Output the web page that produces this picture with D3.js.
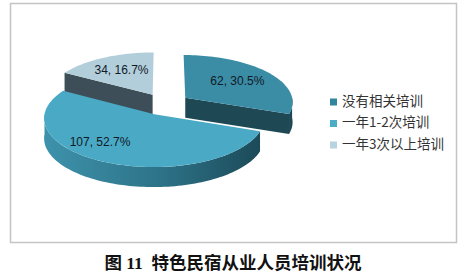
<!DOCTYPE html>
<html>
<head>
<meta charset="utf-8">
<script src="https://cdn.jsdelivr.net/npm/d3@7/dist/d3.min.js"></script>
<style>
  body { margin: 0; background: #fff; }
  svg { display: block; }
</style>
</head>
<body>
<script>
// data
const categories = ["没有相关培训", "一年1-2次培训", "一年3次以上培训"];
const counts = [62, 107, 34];
const percents = ["30.5%", "52.7%", "16.7%"];
const title = "图 11  特色民宿从业人员培训状况";

const width = 466, height = 280;

// pie geometry
const cx = 165, cy = 104;   // pie centre
const R = 108;              // radius (circle space)
const K = 0.44;             // vertical squash
const P = 0.08;             // small perspective
const E = 25;               // explode distance
const depth = 20;           // thickness

const topColor = d3.scaleOrdinal(categories, ["#3b8ca5", "#4aa9c5", "#b3cedb"]);
const sideColor = d3.scaleOrdinal(categories, ["#1f4855", "#2c7389", "#3e4e58"]);
const legendColor = d3.scaleOrdinal(categories, ["#31859c", "#4bacc6", "#b7d3df"]);

const svg = d3.select("body").append("svg")
    .attr("width", width)
    .attr("height", height);

// chart frame
svg.append("rect")
    .attr("x", 10.5).attr("y", 3.5)
    .attr("width", 446).attr("height", 239)
    .attr("fill", "#fff")
    .attr("stroke", "#c4c4c4")
    .attr("stroke-width", 1.5);

const defs = svg.append("defs");
const grad = defs.append("linearGradient")
    .attr("id", "wallGrad")
    .attr("x1", "0%").attr("x2", "100%").attr("y1", "0%").attr("y2", "0%");
grad.append("stop").attr("offset", "0%").attr("stop-color", "#3d92ab");
grad.append("stop").attr("offset", "55%").attr("stop-color", "#2d7287");
grad.append("stop").attr("offset", "100%").attr("stop-color", "#1c4a59");

const arcs = d3.pie().sort(null).startAngle(0).endAngle(2 * Math.PI)(counts);

// circle space (u right, v toward viewer) -> screen
function project(u, v, z) {
    const s = 1 + P * v / R;
    return [cx + u * s, cy + v * K * s + z];
}

const line = d3.line();

function arcPoints(a0, a1, off, z) {
    const n = Math.max(2, Math.ceil(Math.abs(a1 - a0) / 0.03));
    return d3.range(n + 1).map(i => {
        const a = a0 + (a1 - a0) * i / n;
        return project(off.u + R * Math.sin(a), off.v - R * Math.cos(a), z);
    });
}

const slices = arcs.map((d, i) => {
    const mid = (d.startAngle + d.endAngle) / 2;
    return {
        d: d, i: i, cat: categories[i], mid: mid,
        off: { u: E * Math.sin(mid), v: -E * Math.cos(mid) }
    };
});

// back slices first
const order = slices.slice().sort((a, b) => a.off.v - b.off.v);

const gPie = svg.append("g");

order.forEach(s => {
    const g = gPie.append("g");
    const a0 = s.d.startAngle, a1 = s.d.endAngle;
    const vTop = project(s.off.u, s.off.v, 0);
    const vBot = project(s.off.u, s.off.v, depth);

    // outer wall, front half only
    const w0 = Math.max(a0, Math.PI / 2), w1 = Math.min(a1, 3 * Math.PI / 2);
    if (w1 > w0) {
        const top = arcPoints(w0, w1, s.off, 0);
        const bot = arcPoints(w1, w0, s.off, depth);
        g.append("path")
            .attr("d", line(top.concat(bot)) + "Z")
            .attr("fill", s.i === 1 ? "url(#wallGrad)" : sideColor(s.cat));
    }

    // cut faces that look toward the viewer
    [[a0, Math.sin(a0) < -1e-6], [a1, Math.sin(a1) > 1e-6]].forEach(([a, show]) => {
        if (!show) return;
        const eTop = project(s.off.u + R * Math.sin(a), s.off.v - R * Math.cos(a), 0);
        const eBot = project(s.off.u + R * Math.sin(a), s.off.v - R * Math.cos(a), depth);
        g.append("path")
            .attr("d", line([vTop, eTop, eBot, vBot]) + "Z")
            .attr("fill", sideColor(s.cat));
    });

    // top face
    g.append("path")
        .attr("d", line([vTop].concat(arcPoints(a0, a1, s.off, 0))) + "Z")
        .attr("fill", topColor(s.cat));
});

// data labels
const labelNudge = { "一年1-2次培训": -24 };
slices.forEach(s => {
    const f = 0.62;
    const p = project(s.off.u + f * R * Math.sin(s.mid), s.off.v - f * R * Math.cos(s.mid), 0);
    svg.append("text")
        .attr("x", p[0] + (labelNudge[s.cat] || 0))
        .attr("y", p[1])
        .attr("text-anchor", "middle")
        .attr("dominant-baseline", "middle")
        .style("font-family", "'Liberation Sans', 'Noto Sans', sans-serif")
        .style("font-size", "12px")
        .style("fill", "#111a26")
        .text(counts[s.i] + ", " + percents[s.i]);
});

// legend
const legend = svg.append("g").attr("transform", "translate(330,102)");
const items = legend.selectAll("g")
    .data(categories)
    .join("g")
    .attr("transform", (d, i) => "translate(0," + (i * 21.5) + ")");
items.append("rect")
    .attr("x", 0).attr("y", -3.5)
    .attr("width", 7).attr("height", 7)
    .attr("fill", d => legendColor(d));
items.append("text")
    .attr("x", 12).attr("y", 0)
    .attr("dominant-baseline", "middle")
    .style("font-family", "'Noto Sans CJK SC', sans-serif")
    .style("font-size", "13.5px")
    .style("fill", "#333")
    .text(d => d);

// caption
svg.append("text")
    .attr("x", 233).attr("y", 265)
    .attr("text-anchor", "middle")
    .attr("dominant-baseline", "middle")
    .style("font-family", "'Liberation Serif', 'Noto Sans CJK SC', serif")
    .style("font-weight", "bold")
    .style("font-size", "17.5px")
    .style("fill", "#111")
    .style("white-space", "pre")
    .text(title);
</script>
</body>
</html>
